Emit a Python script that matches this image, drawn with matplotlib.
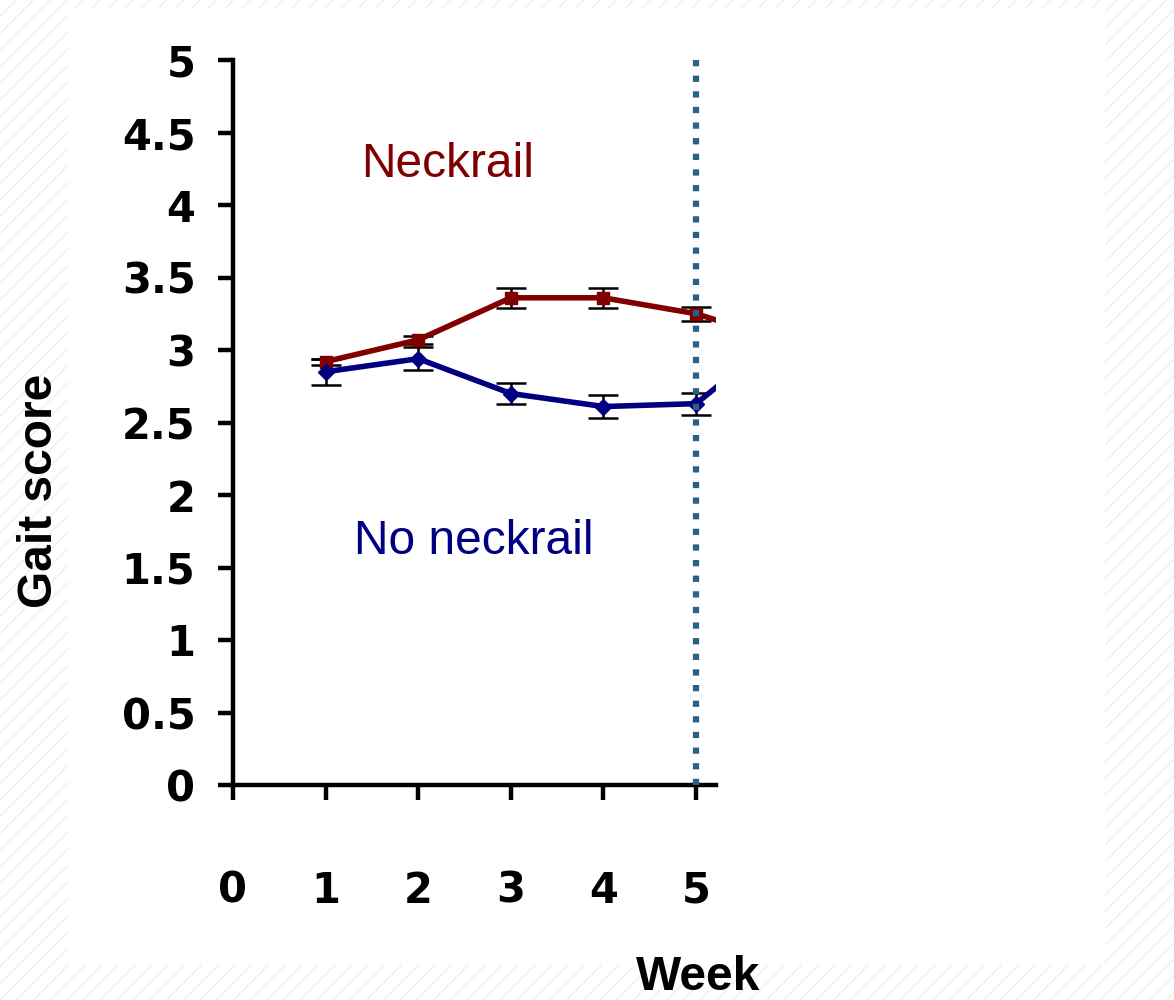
import matplotlib
matplotlib.use("Agg")
import matplotlib.pyplot as plt
from matplotlib.patches import Rectangle

# ======================================================
# DATA
# ======================================================
weeks = [1, 2, 3, 4, 5, 6]
neckrail = [2.92, 3.07, 3.36, 3.36, 3.25, 3.05]
neckrail_err = [0.02, 0.03, 0.07, 0.07, 0.05, 0.05]
no_neckrail = [2.85, 2.94, 2.70, 2.61, 2.63, 3.15]
no_neckrail_err = [0.09, 0.08, 0.075, 0.08, 0.075, 0.08]

x_ticks = [0, 1, 2, 3, 4, 5]
y_ticks = [0, 0.5, 1, 1.5, 2, 2.5, 3, 3.5, 4, 4.5, 5]
y_tick_labels = ["0", "0.5", "1", "1.5", "2", "2.5", "3", "3.5", "4", "4.5", "5"]

RED = "#800000"
BLUE = "#000080"
VLINE = "#2a6184"

# ======================================================
# FIGURE
# ======================================================
fig = plt.figure(figsize=(11.74, 10), dpi=100)

# faint hatched background around the slide area
fig.patches.append(Rectangle((0, 0), 1, 1, transform=fig.transFigure,
                             facecolor="white", edgecolor="#efefef",
                             hatch="//", linewidth=0, zorder=-10))
fig.patches.append(Rectangle((68 / 1174, 35 / 1000), (1105 - 68) / 1174, (992 - 35) / 1000,
                             transform=fig.transFigure, facecolor="white",
                             edgecolor="none", zorder=-9))

ax = fig.add_axes([233 / 1174, 215 / 1000, (716 - 233) / 1174, 725 / 1000])
ax.patch.set_alpha(0)

# error bars first, lines on top
ax.errorbar(weeks, neckrail, yerr=neckrail_err, fmt="none", ecolor="black",
            elinewidth=1.8, capsize=11, capthick=1.8, zorder=2)
ax.errorbar(weeks, no_neckrail, yerr=no_neckrail_err, fmt="none", ecolor="black",
            elinewidth=1.8, capsize=11, capthick=1.8, zorder=2)

ax.plot(weeks, neckrail, color=RED, lw=4, marker="s", markersize=9, zorder=3)
ax.plot(weeks, no_neckrail, color=BLUE, lw=4, marker="D", markersize=8, zorder=3)

ax.axvline(5, color=VLINE, lw=4.5, dashes=(1, 1.5), dash_capstyle="butt", zorder=4)

ax.set_xlim(0, 5.215)
ax.set_ylim(0, 5)

# ======================================================
# AXES STYLE
# ======================================================
for side in ["top", "right"]:
    ax.spines[side].set_visible(False)
for side in ["left", "bottom"]:
    ax.spines[side].set_linewidth(3.2)

ax.set_xticks(x_ticks)
ax.set_xticklabels([str(t) for t in x_ticks])
ax.set_yticks(y_ticks)
ax.set_yticklabels(y_tick_labels)

ax.tick_params(axis="both", direction="out", length=11, width=3.2)
ax.tick_params(axis="x", pad=50, labelsize=30)
ax.tick_params(axis="y", pad=16, labelsize=30)
for lbl in ax.get_xticklabels() + ax.get_yticklabels():
    lbl.set_fontweight("bold")
    lbl.set_family("DejaVu Sans")

# ======================================================
# TEXT
# ======================================================
ax.text(2.32, 4.28, "Neckrail", color=RED, fontsize=34.5,
        family="Liberation Sans", ha="center", va="center")
ax.text(2.60, 1.68, "No neckrail", color=BLUE, fontsize=34.5,
        family="Liberation Sans", ha="center", va="center")

fig.text(698 / 1174, 1 - 978 / 1000, "Week", fontsize=34.5, fontweight="bold",
         family="Liberation Sans", ha="center", va="center")
fig.text(40 / 1174, 1 - 491 / 1000, "Gait score", fontsize=34.5, fontweight="bold",
         family="Liberation Sans", ha="center", va="center", rotation=90)

plt.savefig("out.png", dpi=100)
plt.close()
